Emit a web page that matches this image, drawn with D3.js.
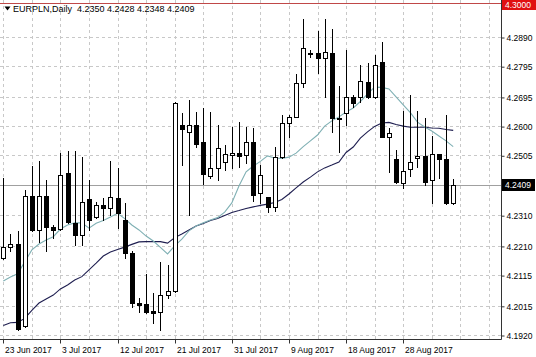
<!DOCTYPE html>
<html><head><meta charset="utf-8">
<script src="https://cdn.jsdelivr.net/npm/d3@7"></script>
<style>body{margin:0;background:#fff} svg{display:block}</style>
</head><body><svg id="c" width="536" height="357"></svg>
<script>
const symbol = "EURPLN,Daily";
const opens = [4.2170,4.2205,4.2216,4.1949,4.2372,4.2262,4.2372,4.2272,4.2264,4.2446,
4.2286,4.2245,4.2363,4.2304,4.2342,4.2333,4.2366,4.2294,4.2187,4.2025,
4.2021,4.1998,4.1995,4.2050,4.2064,4.2604,4.2582,4.2602,4.2547,4.2439,
4.2464,4.2484,4.2506,4.2513,4.2506,4.2549,4.2381,4.2368,4.2338,4.2498,
4.2609,4.2629,4.2739,4.2839,4.2837,4.2821,4.2839,4.2626,4.2642,4.2694,
4.2694,4.2745,4.2694,4.2810,4.2563,4.2493,4.2416,4.2459,4.2495,4.2503,
4.2425,4.2508,4.2492,4.2350];
const highs = [4.2431,4.2249,4.2259,4.2392,4.2470,4.2485,4.2425,4.2278,4.2511,4.2519,
4.2520,4.2500,4.2425,4.2354,4.2365,4.2487,4.2464,4.2350,4.2193,4.2040,
4.2119,4.2057,4.2159,4.2148,4.2679,4.2643,4.2685,4.2646,4.2659,4.2646,
4.2604,4.2538,4.2598,4.2614,4.2598,4.2595,4.2473,4.2370,4.2533,4.2636,
4.2636,4.2770,4.2948,4.2848,4.2911,4.2948,4.2915,4.2731,4.2848,4.2701,
4.2799,4.2804,4.2831,4.2874,4.2594,4.2522,4.2650,4.2701,4.2650,4.2625,
4.2568,4.2510,4.2636,4.2428];
const lows = [4.2166,4.2194,4.1936,4.1946,4.2259,4.2224,4.2193,4.2236,4.2263,4.2286,
4.2213,4.2213,4.2262,4.2301,4.2294,4.2311,4.2268,4.2171,4.2012,4.1996,
4.1992,4.1959,4.1936,4.2040,4.2060,4.2473,4.2311,4.2532,4.2412,4.2431,
4.2425,4.2457,4.2464,4.2466,4.2479,4.2357,4.2349,4.2321,4.2325,4.2495,
4.2566,4.2628,4.2728,4.2826,4.2772,4.2696,4.2582,4.2517,4.2604,4.2663,
4.2679,4.2691,4.2691,4.2563,4.2452,4.2414,4.2398,4.2439,4.2468,4.2408,
4.2350,4.2431,4.2346,4.2348];
const closes = [4.2207,4.2217,4.1940,4.2373,4.2263,4.2372,4.2273,4.2263,4.2441,4.2289,
4.2245,4.2354,4.2294,4.2343,4.2332,4.2369,4.2317,4.2187,4.2024,4.2017,
4.1996,4.1993,4.2050,4.2063,4.2674,4.2590,4.2604,4.2542,4.2443,4.2463,
4.2529,4.2509,4.2513,4.2503,4.2549,4.2376,4.2441,4.2336,4.2498,4.2609,
4.2629,4.2739,4.2853,4.2835,4.2823,4.2842,4.2625,4.2624,4.2696,4.2676,
4.2747,4.2696,4.2799,4.2566,4.2577,4.2419,4.2455,4.2484,4.2503,4.2418,
4.2508,4.2493,4.2349,4.2409];
const maFast = [4.2096,4.2109,4.2119,4.2158,4.2197,4.2216,4.2229,4.2240,4.2265,4.2278,
4.2285,4.2285,4.2268,4.2284,4.2293,4.2304,4.2316,4.2299,4.2278,4.2262,
4.2242,4.2226,4.2205,4.2184,4.2210,4.2232,4.2259,4.2275,4.2285,4.2294,
4.2302,4.2320,4.2350,4.2405,4.2451,4.2470,4.2485,4.2503,4.2496,4.2495,
4.2499,4.2512,4.2533,4.2552,4.2571,4.2600,4.2617,4.2630,4.2646,4.2659,
4.2680,4.2705,4.2727,4.2726,4.2721,4.2695,4.2669,4.2644,4.2613,4.2597,
4.2584,4.2568,4.2552,4.2533];
const maSlow = [4.1951,4.1960,4.1961,4.1974,4.2000,4.2024,4.2037,4.2050,4.2070,4.2083,
4.2099,4.2110,4.2132,4.2154,4.2177,4.2190,4.2198,4.2206,4.2215,4.2223,
4.2224,4.2224,4.2224,4.2219,4.2237,4.2249,4.2262,4.2275,4.2283,4.2293,
4.2299,4.2309,4.2319,4.2325,4.2332,4.2337,4.2342,4.2346,4.2351,4.2361,
4.2379,4.2399,4.2418,4.2434,4.2451,4.2464,4.2473,4.2483,4.2514,4.2532,
4.2561,4.2581,4.2599,4.2610,4.2612,4.2605,4.2600,4.2596,4.2596,4.2596,
4.2594,4.2593,4.2589,4.2586];
const priceTicks = [4.2890,4.2795,4.2695,4.2600,4.2505,4.2310,4.2210,4.2115,4.2015,4.1920];
const dateTickBars = [0,8,16,24,32,40,48,56];
const dateTickLabels = ["23 Jun 2017","3 Jul 2017","12 Jul 2017","21 Jul 2017","31 Jul 2017","9 Aug 2017","18 Aug 2017","28 Aug 2017"];
const gridBarStep = 4, gridBarMax = 68;
const bidPrice = 4.2409;
const alertPrice = 4.3000;

const svg = d3.select("#c");
const FONT = "'Liberation Sans', Arial, sans-serif";
const plotR = 501, plotB = 339;
const x = d3.scaleLinear().domain([0, 63]).range([3.3, 453.2]);
const y = d3.scaleLinear().domain([4.1920, 4.2890]).range([335, 37]);
const px = v => Math.round(x(v));
const py = v => Math.round(y(v));

// grid
const gH = svg.append("g").attr("stroke", "#c8c8c8").attr("stroke-dasharray", "3,3");
priceTicks.forEach(t => gH.append("line").attr("x1", 0).attr("x2", plotR)
  .attr("y1", py(t) + 0.5).attr("y2", py(t) + 0.5));
d3.range(0, gridBarMax + 1, gridBarStep).forEach(b => gH.append("line")
  .attr("x1", px(b) + 0.5).attr("x2", px(b) + 0.5).attr("y1", 0).attr("y2", plotB));

// bid line
svg.append("line").attr("x1", 0).attr("x2", plotR).attr("y1", py(bidPrice) + 0.5).attr("y2", py(bidPrice) + 0.5)
  .attr("stroke", "#a0a0a0");
// alert line
svg.append("line").attr("x1", 0).attr("x2", plotR).attr("y1", py(alertPrice) + 0.5).attr("y2", py(alertPrice) + 0.5)
  .attr("stroke", "#c04848");

// moving averages
const lineGen = d3.line().x((d, i) => x(i)).y(d => y(d));
svg.append("path").attr("d", lineGen(maSlow)).attr("fill", "none").attr("stroke", "#1e1e50").attr("stroke-width", 1.1);
svg.append("path").attr("d", lineGen(maFast)).attr("fill", "none").attr("stroke", "#7fb0b4").attr("stroke-width", 1.1);

// candles
const gC = svg.append("g");
opens.forEach((o, i) => {
  const c = closes[i], h = highs[i], l = lows[i];
  const cx = px(i);
  gC.append("line").attr("x1", cx + 0.5).attr("x2", cx + 0.5)
    .attr("y1", py(h)).attr("y2", py(l) + 1).attr("stroke", "#000");
  const top = py(Math.max(o, c)), bot = py(Math.min(o, c));
  if (c >= o) {
    const hgt = Math.max(0, bot - top);
    gC.append("rect").attr("x", cx - 1.5).attr("y", top + 0.5).attr("width", 4).attr("height", hgt)
      .attr("fill", "#fff").attr("stroke", "#000");
  } else {
    gC.append("rect").attr("x", cx - 2).attr("y", top).attr("width", 5).attr("height", Math.max(1, bot - top + 1))
      .attr("fill", "#000");
  }
});

// frame
svg.append("line").attr("x1", plotR + 0.5).attr("x2", plotR + 0.5).attr("y1", 0).attr("y2", plotB + 0.5).attr("stroke", "#333");
svg.append("line").attr("x1", 0).attr("x2", plotR + 0.5).attr("y1", plotB + 0.5).attr("y2", plotB + 0.5).attr("stroke", "#333");

// price axis
const yAxis = d3.axisRight(y).tickValues(priceTicks).tickFormat(d3.format(".4f")).tickSize(3).tickPadding(2);
const ga = svg.append("g").attr("transform", `translate(${plotR + 0.5},0.5)`).call(yAxis);
ga.select(".domain").remove();
ga.selectAll("line").attr("stroke", "#333");
ga.selectAll("text").attr("font-family", FONT).attr("font-size", 8.5).attr("fill", "#000");

// date axis
const xAxis = d3.axisBottom(x).tickValues(dateTickBars).tickFormat((d, i) => dateTickLabels[i]).tickSize(4).tickPadding(1);
const gx = svg.append("g").attr("transform", `translate(0.5,${plotB + 0.5})`).call(xAxis);
gx.select(".domain").remove();
gx.selectAll("line").attr("stroke", "#333");
gx.selectAll(".tick").attr("transform", d => `translate(${px(d)},0)`);
gx.selectAll("text").attr("font-family", FONT).attr("font-size", 8.5).attr("fill", "#000")
  .attr("text-anchor", "start").attr("x", 1.5).attr("dy", "0.95em");

// bid label
const by = y(bidPrice);
svg.append("rect").attr("x", plotR + 1).attr("y", Math.round(by) - 6).attr("width", 33).attr("height", 12).attr("fill", "#000");
svg.append("text").attr("x", plotR + 4).attr("y", by).attr("dy", "0.35em").attr("font-family", FONT)
  .attr("font-size", 8.5).attr("fill", "#fff").text(d3.format(".4f")(bidPrice));

// alert label (kept fully inside the picture)
svg.append("rect").attr("x", plotR + 1).attr("y", 0).attr("width", 35).attr("height", 10).attr("fill", "#e01010");
svg.append("text").attr("x", plotR + 4).attr("y", 8).attr("font-family", FONT)
  .attr("font-size", 8.5).attr("fill", "#fff").text(d3.format(".4f")(alertPrice));

// title
const n = opens.length - 1;
svg.append("path").attr("d", "M4.5,6.5 L10.5,6.5 L7.5,10.5 Z").attr("fill", "#000");
svg.append("text").attr("x", 13).attr("y", 11.5).attr("font-family", FONT).attr("font-size", 9).attr("fill", "#000")
  .attr("xml:space", "preserve")
  .text(`${symbol}  ${opens[n].toFixed(4)} ${highs[n].toFixed(4)} ${lows[n].toFixed(4)} ${closes[n].toFixed(4)}`);
</script></body></html>
